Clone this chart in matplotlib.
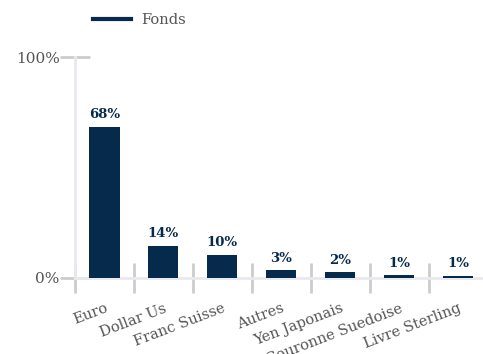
import matplotlib
matplotlib.use('Agg')
import matplotlib.pyplot as plt
from matplotlib.lines import Line2D

categories = ['Euro', 'Dollar Us', 'Franc Suisse', 'Autres', 'Yen Japonais',
              'Couronne Suedoise', 'Livre Sterling']
fonds = [68.4, 14.4, 10.4, 3.4, 2.4, 1.2, 0.8]
yticks = [0, 100]
ytick_labels = ['0%', '100%']

navy = '#062a4b'
grey_txt = '#555555'

plt.rcParams['font.family'] = ['DejaVu Serif']

fig = plt.figure(figsize=(4.83, 3.54), dpi=100)
ax = fig.add_axes([75 / 483, 1 - 277.7 / 354, 1 - 75 / 483, (277.7 - 57.3) / 354])

x = list(range(len(categories)))
ax.bar(x, fonds, width=0.51, color=navy, zorder=3)
for xi, v in zip(x, fonds):
    ax.text(xi, v + 2.5, '%.0f%%' % v, ha='center', va='bottom',
            fontsize=9.5, fontweight='bold', color=navy)

ax.set_xlim(-0.5, 6.42)
ax.set_ylim(0, 100)

for side in ['top', 'right']:
    ax.spines[side].set_visible(False)
for side in ['left', 'bottom']:
    ax.spines[side].set_color('#e8e8ee')
    ax.spines[side].set_linewidth(2)

# gray cross-ticks at slot boundaries, labels at slot centres
ax.set_xticks([i - 0.5 for i in range(len(categories))])
ax.set_xticklabels([])
ax.tick_params(axis='x', which='major', direction='inout', length=22,
               width=2, color='#cccccc')
ax.set_xticks(x, minor=True)
ax.set_xticklabels(categories, minor=True, rotation=21, ha='right',
                   rotation_mode='anchor', fontsize=10.5, color=grey_txt)
ax.tick_params(axis='x', which='minor', length=0, pad=17)

ax.set_yticks(yticks)
ax.set_yticklabels(ytick_labels, fontsize=11, color=grey_txt)
ax.tick_params(axis='y', direction='inout', length=22, width=2,
               color='#cccccc', pad=0)

handle = Line2D([], [], color=navy, linewidth=3)
fig.legend([handle], ['Fonds'], loc='upper left', bbox_to_anchor=(0.165, 1.0),
           frameon=False, handlelength=2.6, handletextpad=0.7, fontsize=10.5,
           labelcolor=grey_txt)

fig.savefig('out.png', dpi=100)
